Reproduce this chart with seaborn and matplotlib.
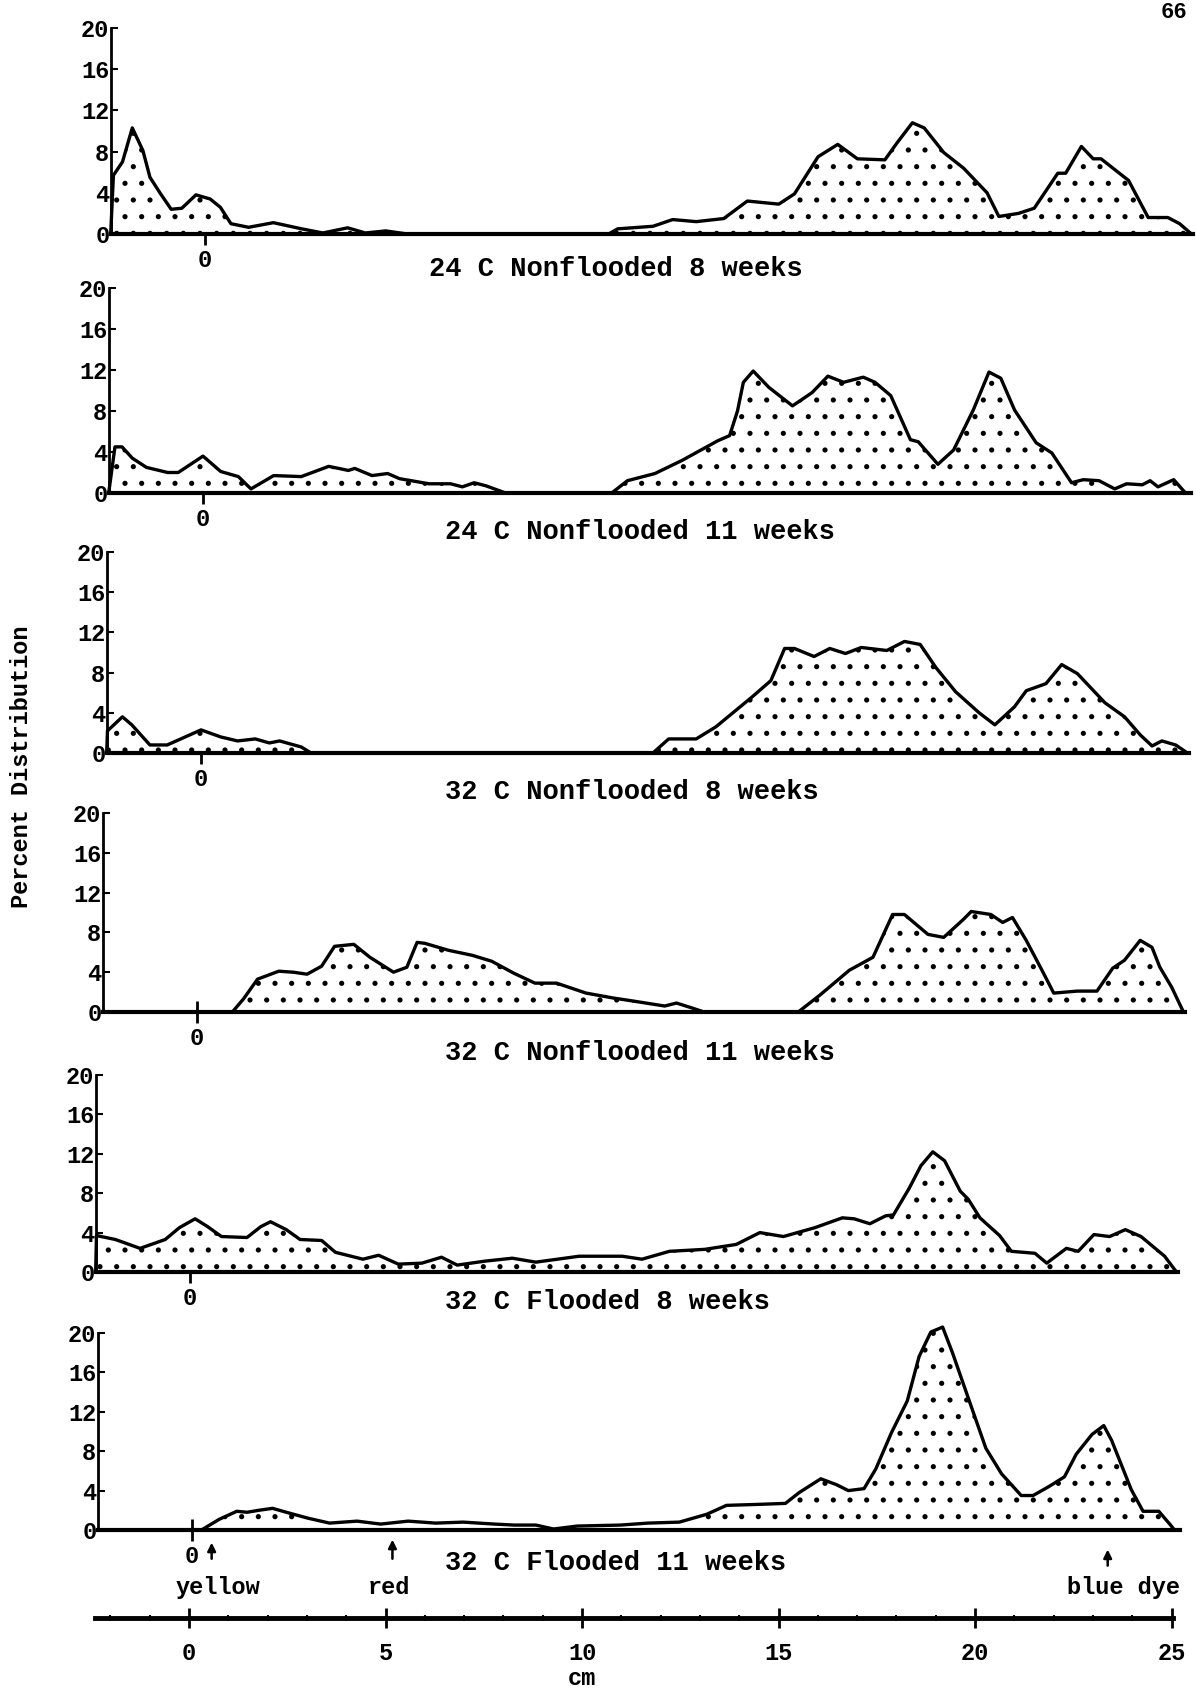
import matplotlib
matplotlib.use("Agg")
import matplotlib.pyplot as plt
import seaborn as sns
import pandas as pd

# traces, x in cm from origin, y in percent
p1_x = [-2.4, -2.33, -2.1, -1.85, -1.58, -1.4, -1.13, -0.86, -0.59, -0.23, 0.13, 0.39, 0.66, 1.11, 1.74,
        2.46, 3.0, 3.63, 4.08, 4.6, 5.15, 10.27, 10.5, 11.4, 11.9, 12.5, 13.2, 13.8, 14.6, 15.0, 15.6,
        16.1, 16.6, 17.3, 17.6, 18.0, 18.3, 18.8, 19.3, 19.9, 20.2, 20.7, 21.1, 21.7, 21.9, 22.3, 22.6,
        22.8, 23.5, 24.0, 24.5, 24.8, 25.1]
p1_y = [0, 5.7, 7.0, 10.3, 8.1, 5.5, 3.9, 2.4, 2.5, 3.8, 3.4, 2.6, 1.0, 0.65, 1.1,
        0.5, 0.1, 0.6, 0.1, 0.3, 0, 0, 0.5, 0.75, 1.4, 1.2, 1.5, 3.2, 2.9, 3.9, 7.5,
        8.7, 7.3, 7.2, 8.8, 10.8, 10.3, 7.9, 6.4, 4.0, 1.7, 2.0, 2.5, 5.9, 5.9, 8.5, 7.3,
        7.3, 5.2, 1.6, 1.6, 1.0, 0]

p2_x = [-2.4, -2.24, -2.06, -1.8, -1.44, -0.9, -0.63, 0, 0.45, 0.9, 1.22, 1.8, 2.5, 3.2, 3.7, 3.86,
        4.3, 4.7, 5.0, 5.75, 6.3, 6.6, 6.9, 7.2, 7.7, 10.4, 10.8, 11.5, 12.2, 13.1, 13.4, 13.6, 13.75,
        14.0, 14.4, 15.0, 15.5, 15.9, 16.3, 16.8, 17.1, 17.5, 18.0, 18.2, 18.7, 19.1, 19.6, 20.0, 20.3,
        20.65, 21.2, 21.6, 22.1, 22.4, 22.8, 23.2, 23.5, 23.9, 24.1, 24.3, 24.7, 25.0]
p2_y = [0, 4.5, 4.5, 3.4, 2.5, 2.0, 2.0, 3.6, 2.1, 1.6, 0.4, 1.7, 1.6, 2.6, 2.2, 2.4,
        1.7, 1.9, 1.4, 0.9, 0.9, 0.6, 1.0, 0.7, 0, 0, 1.2, 1.9, 3.2, 5.1, 5.6, 8.0, 10.8,
        11.9, 10.3, 8.5, 9.8, 11.4, 10.8, 11.3, 10.8, 9.5, 5.2, 5.0, 2.8, 4.2, 8.1, 11.8, 11.2,
        8.1, 4.9, 3.9, 1.0, 1.3, 1.2, 0.4, 0.9, 0.8, 1.2, 0.6, 1.3, 0]

p3_x = [-2.4, -2.38, -2.0, -1.76, -1.3, -0.86, -0.4, 0, 0.5, 0.93, 1.38, 1.74, 2.0, 2.55, 2.8,
        11.5, 11.9, 12.6, 13.1, 14.0, 14.5, 14.85, 15.1, 15.6, 16.0, 16.4, 16.8, 17.45, 17.9, 18.3,
        18.7, 19.2, 19.8, 20.2, 20.7, 21.0, 21.5, 21.9, 22.3, 23.0, 23.5, 23.9, 24.2, 24.45, 24.8, 25.1]
p3_y = [0, 2.2, 3.6, 2.8, 0.8, 0.8, 1.6, 2.3, 1.6, 1.2, 1.4, 1.0, 1.2, 0.6, 0,
        0, 1.4, 1.4, 2.6, 5.5, 7.2, 10.4, 10.4, 9.6, 10.4, 9.9, 10.5, 10.2, 11.1, 10.8,
        8.5, 6.1, 4.0, 2.8, 4.6, 6.2, 6.9, 8.8, 7.9, 5.0, 3.6, 1.8, 0.7, 1.2, 0.8, 0]

p4_x = [-2.4, 0.9, 1.18, 1.54, 2.08, 2.45, 2.8, 3.17, 3.5, 3.99, 4.4, 5.0, 5.34, 5.6, 5.8, 6.4,
        7.0, 7.5, 8.06, 8.6, 9.15, 9.9, 10.6, 11.1, 11.9, 12.2, 12.6, 12.9, 15.3, 15.85, 16.6, 17.2,
        17.7, 18.0, 18.6, 19.0, 19.5, 19.7, 20.2, 20.5, 20.75, 21.1, 21.5, 21.8, 22.4, 22.9, 23.3,
        23.6, 24.0, 24.3, 24.5, 24.8, 25.1]
p4_y = [0, 0, 1.3, 3.3, 4.1, 4.0, 3.8, 4.6, 6.6, 6.8, 5.5, 4.0, 4.5, 7.0, 6.9, 6.2,
        5.7, 5.1, 3.9, 2.9, 2.9, 1.9, 1.4, 1.1, 0.6, 0.9, 0.4, 0, 0, 1.7, 4.2, 5.5,
        9.8, 9.8, 7.8, 7.5, 9.3, 10.1, 9.8, 9.0, 9.5, 7.2, 4.2, 1.9, 2.1, 2.1, 4.4,
        5.2, 7.2, 6.5, 4.5, 2.5, 0]

p5_x = [-2.4, -2.38, -1.9, -1.27, -0.63, -0.27, 0.13, 0.45, 0.8, 1.45, 1.8, 2.05, 2.45, 2.8, 3.35,
        3.7, 4.4, 4.8, 5.3, 5.9, 6.4, 6.8, 7.5, 8.2, 8.8, 9.9, 11.0, 11.5, 12.2, 13.1, 13.9, 14.5,
        15.1, 15.9, 16.6, 16.9, 17.3, 17.7, 17.9, 18.3, 18.6, 18.9, 19.2, 19.6, 19.8, 20.1, 20.6,
        20.9, 21.5, 21.8, 22.3, 22.6, 23.0, 23.4, 23.8, 24.2, 24.8, 25.1]
p5_y = [0, 3.7, 3.3, 2.4, 3.3, 4.5, 5.4, 4.6, 3.6, 3.5, 4.6, 5.1, 4.3, 3.3, 3.2,
        2.0, 1.3, 1.7, 0.8, 0.9, 1.5, 0.7, 1.1, 1.4, 1.0, 1.6, 1.6, 1.3, 2.1, 2.3, 2.8, 4.0,
        3.6, 4.5, 5.5, 5.4, 4.9, 5.7, 5.8, 8.5, 10.8, 12.2, 11.3, 8.2, 7.4, 5.5, 3.7,
        2.1, 1.9, 0.9, 2.4, 2.1, 3.8, 3.6, 4.3, 3.6, 1.6, 0]

p6_x = [-2.4, 0.24, 0.7, 1.14, 1.4, 1.7, 2.05, 2.4, 2.95, 3.5, 4.2, 4.8, 5.5, 6.2, 6.9, 7.7, 8.2,
        8.75, 9.2, 9.8, 10.9, 11.6, 12.4, 13.1, 13.6, 14.4, 15.1, 15.45, 16.0, 16.4, 16.7, 17.1,
        17.4, 17.8, 18.2, 18.5, 18.8, 19.1, 19.35, 19.7, 20.2, 20.6, 21.1, 21.4, 21.8, 22.2, 22.5,
        22.9, 23.2, 23.4, 23.9, 24.2, 24.6, 24.9, 25.0]
p6_y = [0, 0, 1.1, 1.9, 1.8, 2.0, 2.2, 1.8, 1.2, 0.7, 0.9, 0.6, 0.9, 0.7, 0.8, 0.6, 0.5,
        0.5, 0.1, 0.4, 0.5, 0.7, 0.8, 1.6, 2.5, 2.6, 2.7, 3.8, 5.2, 4.6, 4.0, 4.2,
        6.2, 9.9, 13.1, 17.6, 20.1, 20.6, 18.0, 14.0, 8.3, 5.7, 3.5, 3.5, 4.4, 5.4, 7.7,
        9.7, 10.6, 9.1, 4.1, 1.9, 1.9, 0.5, 0]

titles = ['24 C Nonflooded 8 weeks', '24 C Nonflooded 11 weeks', '32 C Nonflooded 8 weeks',
          '32 C Nonflooded 11 weeks', '32 C Flooded 8 weeks', '32 C Flooded 11 weeks']
y_ticks = [0, 4, 8, 12, 16, 20]
cm_ticks = [0, 5, 10, 15, 20, 25]
dye_names = ['yellow', 'red', 'blue dye']
dye_pos = [0.5, 5.1, 23.3]

series = [(p1_x, p1_y), (p2_x, p2_y), (p3_x, p3_y), (p4_x, p4_y), (p5_x, p5_y), (p6_x, p6_y)]

sns.set_style('ticks', {'axes.edgecolor': 'black', 'xtick.color': 'black',
                        'ytick.color': 'black', 'text.color': 'black'})
plt.rcParams['font.family'] = ['Liberation Mono', 'DejaVu Sans']
plt.rcParams['font.weight'] = 'bold'
plt.rcParams['hatch.linewidth'] = 1.3

W, H = 1196, 1694
fig = plt.figure(figsize=(W / 100, H / 100), dpi=100)

# pixel layout per panel: zero-cm x, baseline y, y of the 20 % level
layout = [(205, 234, 28), (203, 493, 288), (201, 753, 552),
          (197, 1012, 813), (190, 1272, 1075), (192, 1530, 1333)]
# title left x / centre y
title_pos = [(429, 269), (445, 532), (445, 792), (445, 1053), (445, 1302), (445, 1563)]
PX_CM = 39.3
XMIN, XMAX = -2.4, 25.15

axes = []
for i, (xs, ys) in enumerate(series):
    zero, base, top = layout[i]
    left = zero + XMIN * PX_CM
    ax = fig.add_axes([left / W, 1 - base / H, (XMAX - XMIN) * PX_CM / W, (base - top) / H])
    df = pd.DataFrame({'cm': xs, 'pct': ys})
    ax.fill_between(df['cm'], df['pct'], 0, facecolor='white', edgecolor='black',
                    hatch='.', linewidth=0, clip_on=False)
    sns.lineplot(data=df, x='cm', y='pct', ax=ax, color='black', lw=2.4,
                 estimator=None, sort=False, clip_on=False,
                 solid_joinstyle='round', solid_capstyle='round')
    ax.set_xlim(XMIN, XMAX)
    ax.set_ylim(0, 20)
    ax.set_yticks(y_ticks)
    ax.set_xticks([0])
    ax.set_xticklabels(['0'])
    ax.set_xlabel('')
    ax.set_ylabel('')
    sns.despine(ax=ax)
    ax.spines['left'].set_linewidth(2)
    ax.spines['bottom'].set_linewidth(3)
    ax.tick_params(axis='y', direction='in', length=5, width=1.5, labelsize=17, pad=1)
    ax.tick_params(axis='x', direction='inout', length=16, width=2, labelsize=17, pad=3)
    ax.patch.set_visible(False)
    tx, ty = title_pos[i]
    fig.text(tx / W, 1 - ty / H, titles[i], ha='left', va='center', fontsize=19.5)
    axes.append(ax)

# dye front markers under the last panel
ax6 = axes[-1]
label_shift = [0.15, -0.1, 0.4]
tail = [-3.2, -3.2, -3.9]
head = [-1.0, -0.7, -1.7]
for name, pos, dx, t, h in zip(dye_names, dye_pos, label_shift, tail, head):
    ax6.annotate('', xy=(pos, h), xytext=(pos, t), annotation_clip=False,
                 arrowprops=dict(arrowstyle='-|>', color='black', lw=1.8, mutation_scale=12))
    ax6.text(pos + dx, -5.8, name, ha='center', va='center', fontsize=17, clip_on=False)

# common cm scale at the bottom
zero_b = 189
axb = fig.add_axes([(zero_b + XMIN * PX_CM) / W, 1 - 1618 / H, (25.05 - XMIN) * PX_CM / W, 0.0005])
axb.set_xlim(XMIN, 25.05)
axb.set_ylim(0, 1)
axb.set_yticks([])
axb.set_xticks(cm_ticks)
axb.set_xticks(range(-2, 26), minor=True)
sns.despine(ax=axb, left=True)
axb.spines['bottom'].set_linewidth(3.5)
axb.tick_params(axis='x', which='major', direction='inout', length=14, width=2, labelsize=17, pad=10)
axb.tick_params(axis='x', which='minor', direction='inout', length=4, width=1.5)
axb.patch.set_visible(False)

fig.text((zero_b + 10 * PX_CM) / W, 1 - 1678 / H, 'cm', ha='center', va='center', fontsize=17)
fig.text(22 / W, 1 - 767 / H, 'Percent Distribution', rotation=90, ha='center', va='center', fontsize=17)
fig.text(1161 / W, 1 - 12 / H, '66', ha='left', va='center', fontsize=16)

fig.savefig('out.png', dpi=100)
